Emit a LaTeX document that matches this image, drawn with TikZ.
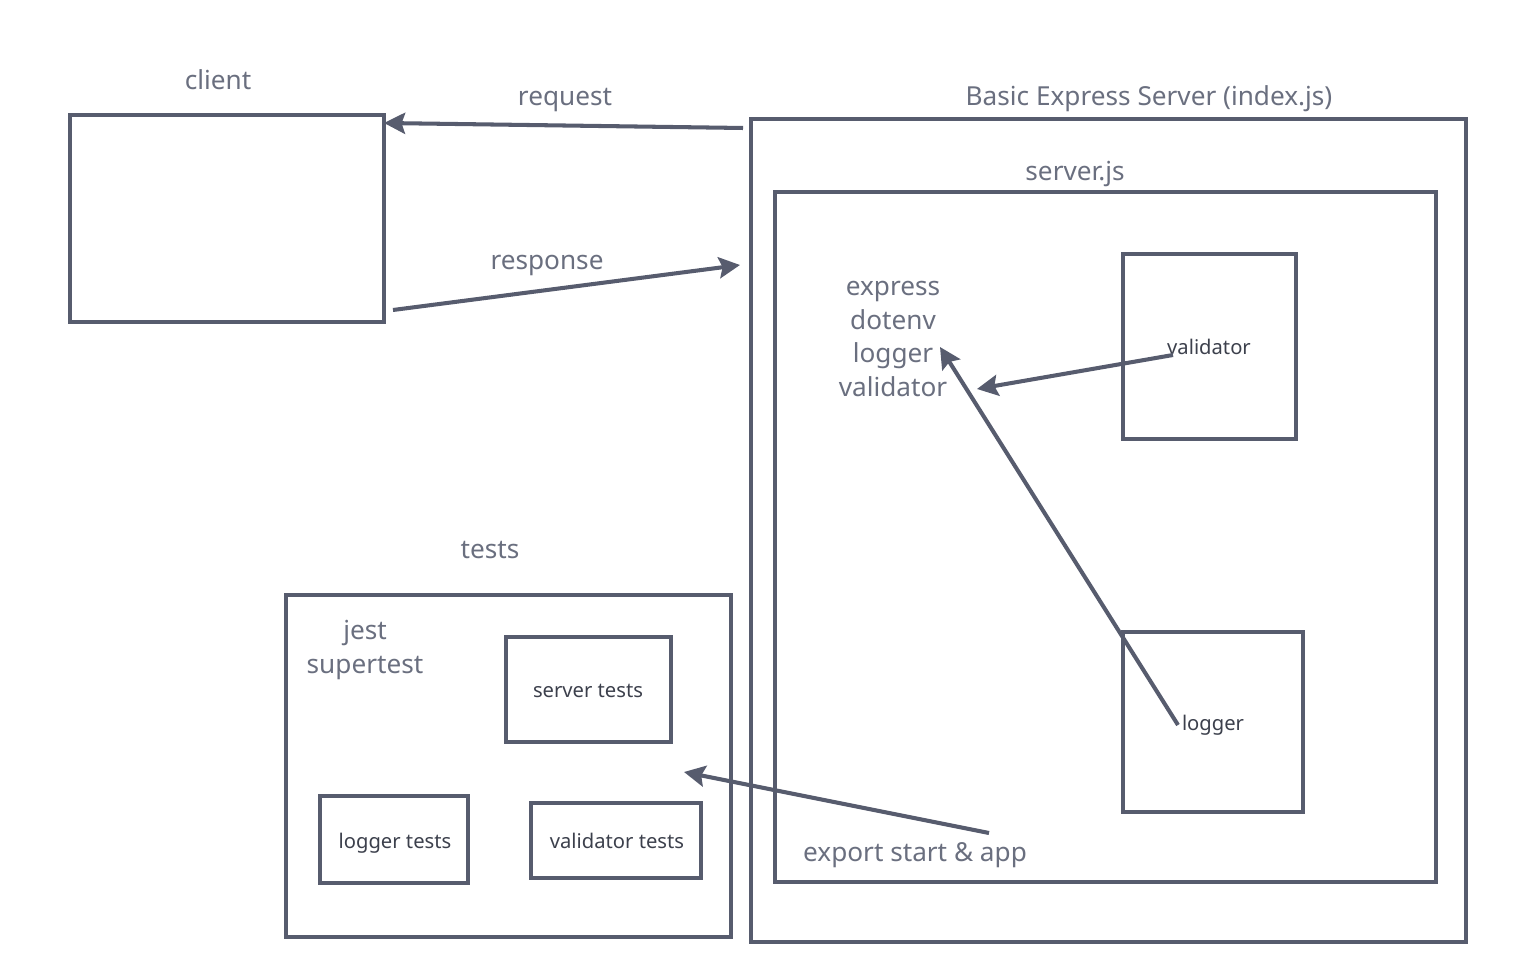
\documentclass[tikz,border=0pt]{standalone}
\usepackage{fontspec}
\setmainfont{Noto Sans}
\usetikzlibrary{arrows.meta}
\definecolor{ln}{HTML}{575C6E}
\definecolor{lbl}{HTML}{6A6F7F}
\definecolor{itx}{HTML}{3C404C}
\tikzset{
  box/.style={draw=ln, line width=2.3pt},
  lab/.style={text=lbl, font=\fontsize{14.9}{18}\selectfont, inner sep=0pt, text height=0.714em, text depth=0pt, yshift=-0.08cm},
  itxt/.style={text=itx, font=\fontsize{11.5}{14}\selectfont, inner sep=0pt, text height=0.714em, text depth=0pt, yshift=-0.02cm},
  conn/.style={draw=ln, line width=2.3pt, -{Stealth[length=12pt,width=12pt,inset=2pt]}},
}
\begin{document}
\begin{tikzpicture}[x=0.02cm,y=-0.02cm]
\useasboundingbox (0,0) rectangle (1524,972);
% client
\draw[box] (70,115) rectangle (384,322);
\node[lab] (clientl) at (218,79) {client};
\coordinate (clientTR) at (384,123);
\coordinate (clientR) at (393,310);
% server outer
\draw[box] (751,119) rectangle (1466,942);
\node[lab] (srvl) at (1149,95) {Basic Express Server (index.js)};
\coordinate (srvTL) at (743,128);
\coordinate (srvL) at (740,265);
% server.js
\draw[box] (775,192) rectangle (1436,882);
\node[lab] (sjsl) at (1075,170) {server.js};
% validator
\draw[box] (1123,254) rectangle (1296,439);
\node[itxt] (val) at (1209,347) {validator};
% logger
\draw[box] (1123,632) rectangle (1303,812);
\node[itxt] (log) at (1213,723) {logger};
% express list
\node[lab] (l1) at (893,285) {express};
\node[lab] (l2) at (893,319) {dotenv};
\node[lab] (l3) at (893,352) {logger};
\node[lab] (l4) at (893,386) {validator};
% tests
\draw[box] (286,595) rectangle (731,937);
\node[lab] (testsl) at (490,548) {tests};
\node[lab] (jest) at (365,629) {jest};
\node[lab] (super) at (365,663) {supertest};
\draw[box] (506,637) rectangle (671,742);
\node[itxt] (st) at (588,690) {server tests};
\draw[box] (320,796) rectangle (468,883);
\node[itxt] (lt) at (395,841) {logger tests};
\draw[box] (531,803) rectangle (701,878);
\node[itxt] (vt) at (617,841) {validator tests};
\node[lab] (exp) at (915,851) {export start \& app};
\node[lab] (req) at (565,95) {request};
\node[lab] (resp) at (547,259) {response};
% arrows
\coordinate (vs) at (1173,355);
\coordinate (ve) at (977,389);
\coordinate (ls) at (1178,725);
\coordinate (le) at (940,347);
\coordinate (es) at (989,833);
\coordinate (ee) at (684,772);
\draw[conn] (srvTL) -- (clientTR);
\draw[conn] (clientR) -- (srvL);
\draw[conn] (vs) -- (ve);
\draw[conn] (ls) -- (le);
\draw[conn] (es) -- (ee);
\end{tikzpicture}
\end{document}
